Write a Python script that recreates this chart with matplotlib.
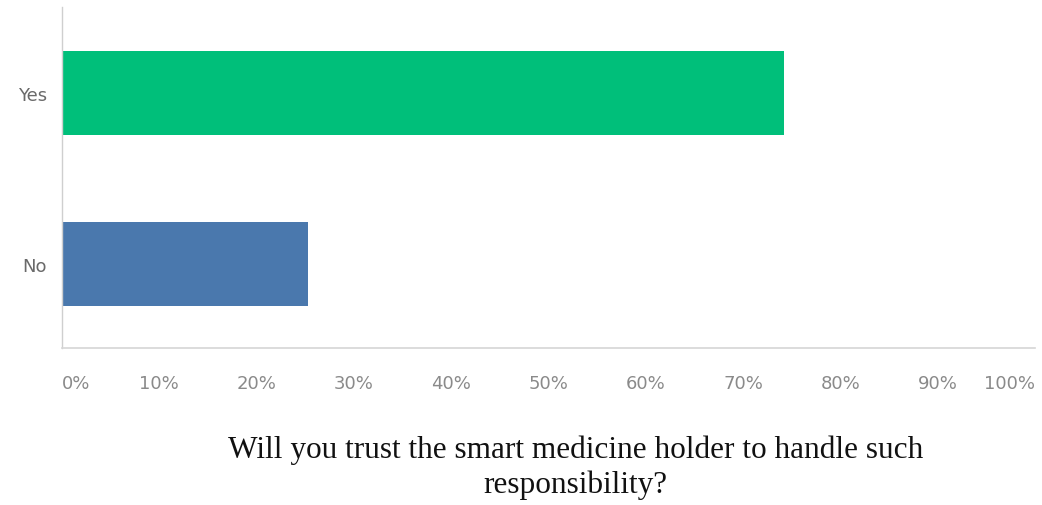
import numpy as np
import matplotlib.pyplot as plt
from matplotlib.ticker import FixedLocator

# survey answers (share of respondents, %)
answers = ["No", "Yes"]
shares = [25.3, 74.2]
bar_colors = ["#4A78AD", "#00BF7A"]
tick_values = [0, 10, 20, 30, 40, 50, 60, 70, 80, 90, 100]
tick_labels = [f"{v}%" for v in tick_values]
question = "Will you trust the smart medicine holder to handle such\nresponsibility?"

fig = plt.figure(figsize=(10.42, 5.06), dpi=100)
ax = fig.add_axes([0.0595, 0.3103, 0.9338, 0.674])

ypos = np.arange(len(answers))
ax.barh(ypos, shares, height=0.49, color=bar_colors)

ax.set_xlim(0, 100)
ax.set_ylim(-0.49, 1.50)
ax.set_yticks(ypos)
ax.set_yticklabels(answers)
ax.xaxis.set_major_locator(FixedLocator(tick_values))
ax.set_xticklabels(tick_labels)

# first and last labels hug the ends of the axis
xlabels = ax.get_xticklabels()
xlabels[0].set_horizontalalignment("left")
xlabels[-1].set_horizontalalignment("right")

ax.tick_params(axis="x", length=0, pad=19, labelsize=13, labelcolor="#8a8a8a")
ax.tick_params(axis="y", length=0, pad=11, labelsize=13, labelcolor="#6a6a6a")

for side in ["top", "right"]:
    ax.spines[side].set_visible(False)
ax.spines["left"].set_color("#cfcfcf")
ax.spines["bottom"].set_color("#d6d6d6")
ax.spines["left"].set_linewidth(1.0)
ax.spines["bottom"].set_linewidth(1.2)

fig.text(0.552, 0.012, question, ha="center", va="bottom",
         family="Liberation Serif", fontsize=22.5, color="#111111",
         linespacing=1.22)

fig.savefig("out.png", dpi=100)
